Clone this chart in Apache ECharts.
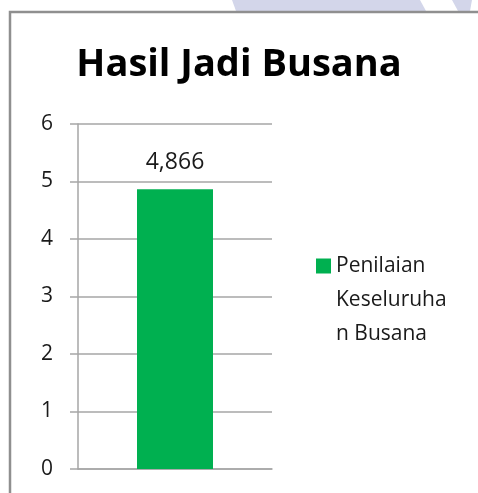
<!DOCTYPE html>
<html><head><meta charset="utf-8">
<script src="https://cdn.jsdelivr.net/npm/echarts@6/dist/echarts.min.js"></script>
<style>html,body{margin:0;padding:0;background:#fff}#c{width:478px;height:493px}</style>
</head><body><div id="c"></div>
<script>
const titleText = 'Hasil Jadi Busana';
const categories = [''];
const seriesName = 'Penilaian Keseluruhan Busana';
const legendLines = ['Penilaian', 'Keseluruha', 'n Busana'];
const seriesValues = [4.866];
const yTicks = [0, 1, 2, 3, 4, 5, 6];

const chart = echarts.init(document.getElementById('c'));
const font = '"Open Sans", "Noto Sans", sans-serif';
chart.setOption({
  animation: false,
  backgroundColor: '#fff',
  graphic: [
    { type: 'polygon', silent: true, z: -2, shape: { points: [[232,0],[420,0],[426,11],[236,11]] }, style: { fill: '#d3d6ea' } },
    { type: 'polygon', silent: true, z: -2, shape: { points: [[452,0],[472,0],[470,11],[458,11]] }, style: { fill: '#d3d6ea' } },
    { type: 'rect', silent: true, z: -1, shape: { x: 10, y: 12, width: 520, height: 520 }, style: { fill: '#fff', stroke: '#8f8f8f', lineWidth: 2.5 } }
  ],
  title: {
    text: titleText, left: 'center', top: 41,
    textStyle: { fontFamily: font, fontWeight: 'bold', fontSize: 38, color: '#000' }
  },
  legend: {
    left: 316, top: 181, padding: 0,
    icon: 'rect', itemWidth: 15, itemHeight: 15, itemGap: 0,
    formatter: () => '\n\n' + legendLines.join('\n'),
    textStyle: { fontFamily: font, fontSize: 21, color: '#1a1a1a', lineHeight: 34 }
  },
  grid: { left: 78, right: 206, top: 124, bottom: 24, containLabel: false },
  xAxis: {
    type: 'category', data: categories,
    axisLine: { show: true, lineStyle: { color: '#a6a6a6', width: 1.5 } },
    axisTick: { show: false }, axisLabel: { show: false }
  },
  yAxis: {
    type: 'value', min: 0, max: 6, interval: 1,
    axisLine: { show: true, lineStyle: { color: '#a6a6a6', width: 1.5 } },
    axisTick: { show: true, length: 8, lineStyle: { color: '#a6a6a6', width: 1.5 } },
    splitLine: { show: true, lineStyle: { color: '#a6a6a6', width: 1.5 } },
    axisLabel: {
      margin: 25, fontFamily: font, fontSize: 21, color: '#1a1a1a',
      formatter: v => yTicks.includes(v) ? String(v) : ''
    }
  },
  series: [{
    name: seriesName, type: 'bar', data: seriesValues, barWidth: 76,
    itemStyle: { color: '#00b050' },
    label: {
      show: true, position: 'top', distance: 15,
      fontFamily: font, fontSize: 23, color: '#1a1a1a',
      formatter: p => String(p.value).replace('.', ',')
    }
  }]
});
</script></body></html>
